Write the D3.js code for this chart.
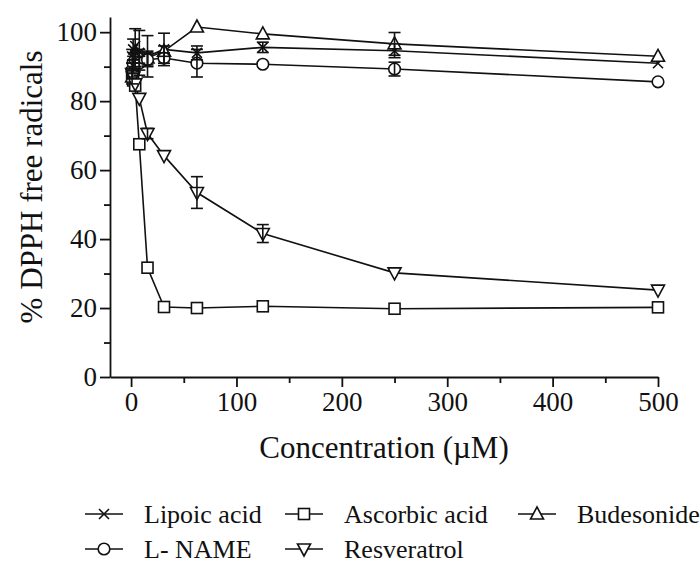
<!DOCTYPE html>
<html>
<head>
<meta charset="utf-8">
<script src="https://cdn.jsdelivr.net/npm/d3@7"></script>
<style>
  html, body { margin: 0; padding: 0; background: #fff; }
  svg { display: block; }
</style>
</head>
<body>
<svg id="chart" width="700" height="565"></svg>
<script>
// Concentrations tested (µM)
const concentrations = [0.98, 1.95, 3.9, 7.8, 15.6, 31.25, 62.5, 125, 250, 500];

// Mean % DPPH free radicals remaining
const lipoicAcid   = [93, 95, 96, 94, 93, 95, 94, 95.6, 94.6, 91];
const ascorbicAcid = [88, 86, 84.5, 67.5, 31.7, 20.3, 20, 20.5, 19.8, 20.2];
const budesonide   = [87, 90, 92, 93, 92.5, 94.5, 101.5, 99.5, 96.6, 93];
const lName        = [89, 91, 92, 91, 92, 92.5, 91, 90.7, 89.3, 85.6];
const resveratrol  = [88, 87, 85, 80.8, 70.6, 64.2, 53.5, 41.6, 30.2, 25.2];

// Standard errors
const lipoicErr    = [2, 3, 5, 6.5, 6, 4.7, 2, 1.5, 2, 1];
const ascorbicErr  = [1, 1, 1, 1, 1, 0.8, 0.6, 0.6, 0.6, 0.6];
const budesonideErr= [2, 2, 2, 2, 2, 1.5, 1, 1, 3.3, 1];
const lNameErr     = [2, 2, 2, 2, 2, 1.5, 4, 1, 2, 0.8];
const resveratrolErr=[1, 1, 1, 1, 1.5, 1, 4.6, 2.6, 1, 0.8];

const seriesNames  = ["Lipoic acid", "Ascorbic acid", "Budesonide", "L- NAME", "Resveratrol"];
const seriesSymbols= ["cross", "square", "triangleUp", "circle", "triangleDown"];

const xTicks      = [0, 100, 200, 300, 400, 500];
const xMinorTicks = [50, 150, 250, 350, 450];
const yTicks      = [0, 20, 40, 60, 80, 100];
const yMinorTicks = [10, 30, 50, 70, 90];

const xTitle = "Concentration (\u00B5M)";
const yTitle = "% DPPH free radicals";

const series = [
  { name: seriesNames[0], symbol: seriesSymbols[0], values: lipoicAcid,   errors: lipoicErr },
  { name: seriesNames[1], symbol: seriesSymbols[1], values: ascorbicAcid, errors: ascorbicErr },
  { name: seriesNames[2], symbol: seriesSymbols[2], values: budesonide,   errors: budesonideErr },
  { name: seriesNames[3], symbol: seriesSymbols[3], values: lName,        errors: lNameErr },
  { name: seriesNames[4], symbol: seriesSymbols[4], values: resveratrol,  errors: resveratrolErr }
];

const FONT = "'Liberation Serif', Tinos, 'Times New Roman', Times, serif";
const svg = d3.select("#chart");
const ink = "#111";

const x = d3.scaleLinear().domain([-20, 500]).range([110, 658]);
const y = d3.scaleLinear().domain([0, 104.4]).range([377, 17]);

// Marker drawing
function drawMarker(g, symbol, cx, cy) {
  const s = g.append("g").attr("transform", `translate(${cx},${cy})`)
    .attr("fill", "#fff").attr("stroke", ink).attr("stroke-width", 1.6);
  if (symbol === "cross") {
    s.append("path").attr("d", "M-5,-5L5,5M-5,5L5,-5").attr("fill", "none");
  } else if (symbol === "square") {
    s.append("rect").attr("x", -5.5).attr("y", -5.5).attr("width", 11).attr("height", 11);
  } else if (symbol === "circle") {
    s.append("circle").attr("r", 5.8);
  } else if (symbol === "triangleUp") {
    s.append("path").attr("d", "M0,-7L6.5,5L-6.5,5Z");
  } else if (symbol === "triangleDown") {
    s.append("path").attr("d", "M0,7L6.5,-5L-6.5,-5Z");
  }
}

// Axes
svg.append("g").attr("transform", "translate(110,0)")
  .call(d3.axisLeft(y).tickValues(yTicks).tickSize(10).tickSizeOuter(0).tickPadding(3));
svg.append("g").attr("transform", "translate(110,0)")
  .call(d3.axisLeft(y).tickValues(yMinorTicks).tickSize(6).tickSizeOuter(0).tickFormat(""))
  .select(".domain").remove();

svg.append("g").attr("transform", "translate(0,377)")
  .call(d3.axisBottom(x).tickValues(xTicks).tickSize(10).tickSizeOuter(0).tickPadding(5));
svg.append("g").attr("transform", "translate(0,377)")
  .call(d3.axisBottom(x).tickValues(xMinorTicks).tickSize(6).tickSizeOuter(0).tickFormat(""))
  .select(".domain").remove();

svg.selectAll(".domain, .tick line").attr("stroke", ink).attr("stroke-width", 1.8);
svg.selectAll(".tick text").style("font-size", "27px")
  .style("font-family", FONT).attr("fill", ink);

// Axis titles
svg.append("text").attr("x", 384).attr("y", 458).attr("text-anchor", "middle")
  .style("font-family", FONT).style("font-size", "31px").attr("fill", ink).text(xTitle);
svg.append("text").attr("transform", "translate(42,187) rotate(-90)")
  .attr("text-anchor", "middle").style("font-family", FONT).style("font-size", "31px")
  .attr("fill", ink).text(yTitle);

// Lines
const line = d3.line().x((d, i) => x(concentrations[i])).y(d => y(d));
const plot = svg.append("g");
series.forEach(s => {
  plot.append("path").datum(s.values).attr("d", line)
    .attr("fill", "none").attr("stroke", ink).attr("stroke-width", 1.6);
});

// Markers
series.forEach(s => {
  s.values.forEach((v, i) => drawMarker(plot, s.symbol, x(concentrations[i]), y(v)));
});

// Error bars
series.forEach(s => {
  s.values.forEach((v, i) => {
    const cx = x(concentrations[i]);
    const y0 = y(v - s.errors[i]), y1 = y(v + s.errors[i]);
    if (Math.abs(y0 - y1) < 8) return;
    const eb = plot.append("g").attr("stroke", ink).attr("stroke-width", 1.6);
    eb.append("line").attr("x1", cx).attr("x2", cx).attr("y1", y0).attr("y2", y1);
    eb.append("line").attr("x1", cx - 6).attr("x2", cx + 6).attr("y1", y0).attr("y2", y0);
    eb.append("line").attr("x1", cx - 6).attr("x2", cx + 6).attr("y1", y1).attr("y2", y1);
  });
});

// Legend
const legendPos = [[85, 514], [285, 514], [518, 514], [85, 549], [285, 549]];
series.forEach((s, i) => {
  const [lx, ly] = legendPos[i];
  const g = svg.append("g");
  g.append("line").attr("x1", lx).attr("x2", lx + 38).attr("y1", ly).attr("y2", ly)
    .attr("stroke", ink).attr("stroke-width", 1.6);
  drawMarker(g, s.symbol, lx + 19, ly);
  g.append("text").attr("x", lx + 59).attr("y", ly).attr("dy", "0.35em")
    .style("font-family", FONT).style("font-size", "26px").attr("fill", ink).text(s.name);
});
</script>
</body>
</html>
